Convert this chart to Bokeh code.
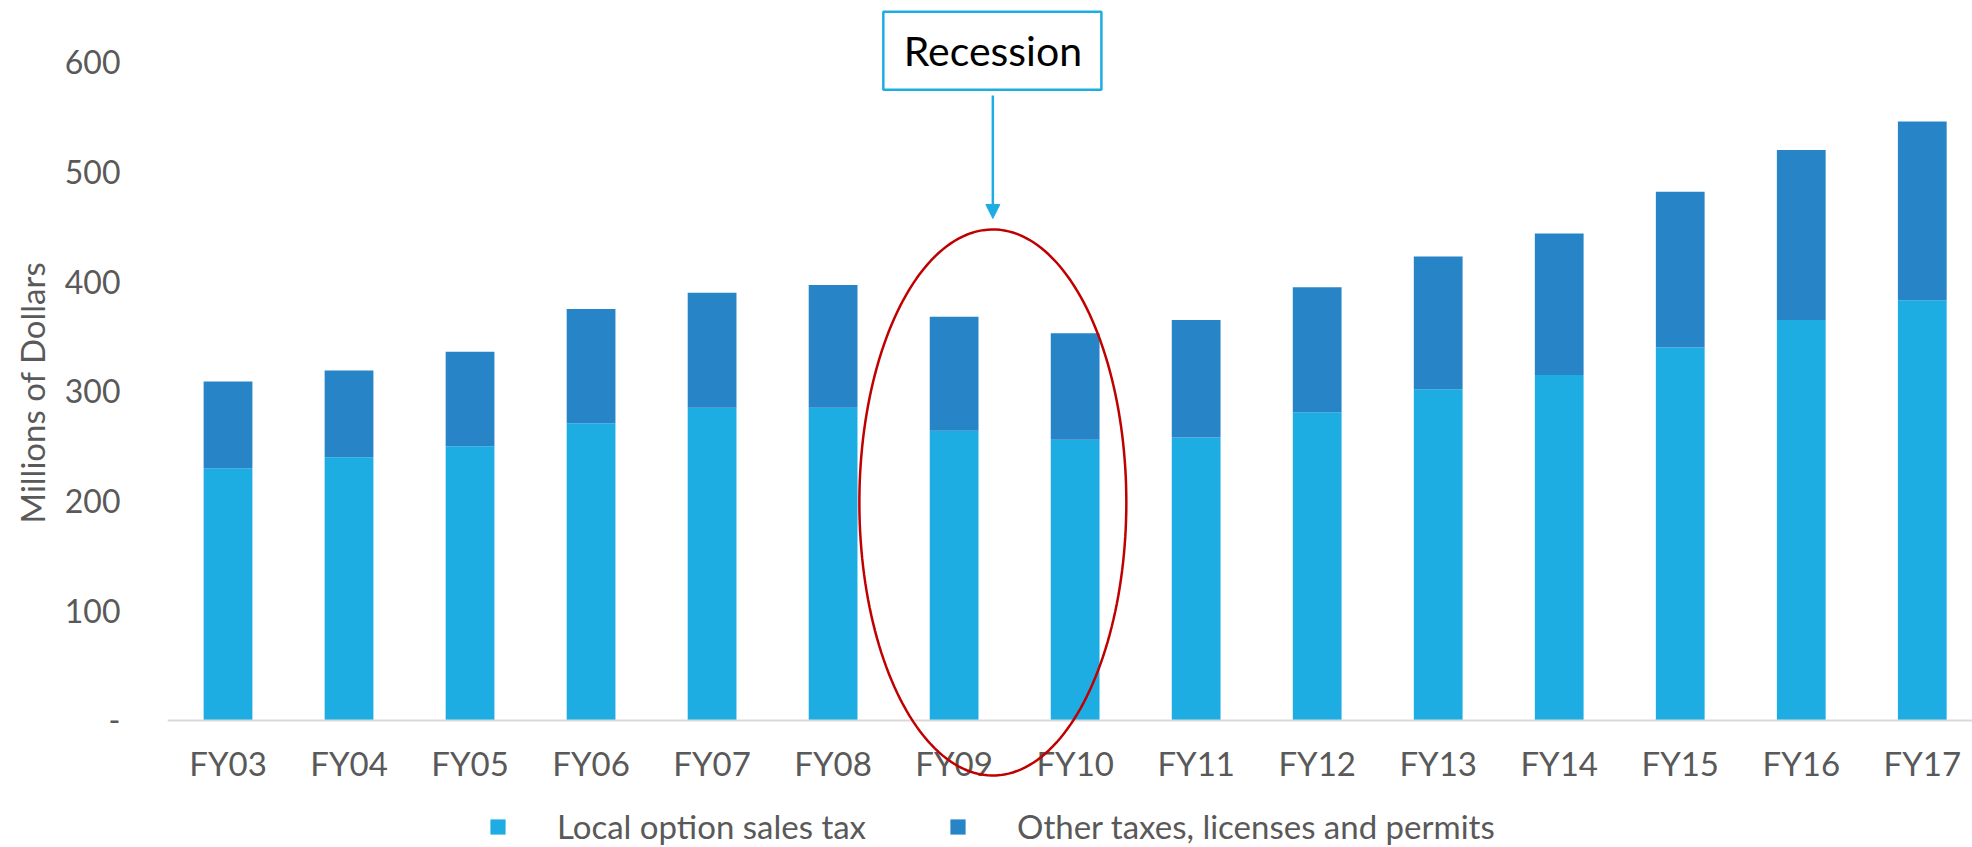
import numpy as np
from bokeh.plotting import figure
from bokeh.models import (Range1d, Legend, LegendItem, BoxAnnotation, Label, Title,
                          Arrow, NormalHead, PolyAnnotation, FixedTicker)
from bokeh.embed import file_html
from bokeh.resources import INLINE

# ---- data ----
years = ["FY03", "FY04", "FY05", "FY06", "FY07", "FY08", "FY09", "FY10",
         "FY11", "FY12", "FY13", "FY14", "FY15", "FY16", "FY17"]
local_sales_tax = [230, 240, 250, 271, 285, 285, 264, 256, 258, 281, 302, 315, 340, 365, 383]
other_taxes = [79, 79, 86, 104, 105, 112, 104, 97, 107, 114, 121, 129, 142, 155, 163]
series_names = ["Local option sales tax", "Other taxes, licenses and permits"]
y_ticks = [0, 100, 200, 300, 400, 500, 600]
y_title = "Millions of Dollars"

# ---- annotation geometry (category-slot x units, data y) ----
ann_x = 6.82
box_left, box_right, box_top, box_bottom = 5.915, 7.717, 646.0, 575.0
label_y = 610.8
arrow_y_start, arrow_y_end = 569.7, 457.6
ell_cx, ell_cy, ell_rx, ell_ry = 6.82, 198.7, 1.103, 248.9

C_LOCAL = "#1EADE3"
C_OTHER = "#2784C7"
GREY = "#595959"
FONT = "Lato"

# category slots: each year occupies one unit, centred at slot + 0.5
slots = [i + 0.5 for i in range(len(years))]

p = figure(width=1972, height=847, x_range=Range1d(0, 14.915),
           y_range=Range1d(-115.8, 656.3), output_backend="svg", toolbar_location=None,
           min_border_left=167, min_border_right=0, min_border_top=0, min_border_bottom=0)
p.outline_line_color = None
p.xgrid.grid_line_color = None
p.ygrid.grid_line_color = None

data = {"x": slots, "years": years, "local": local_sales_tax, "other": other_taxes}
rs = p.vbar_stack(["local", "other"], x="x", width=0.403, source=data,
                  color=[C_LOCAL, C_OTHER], line_color=None)

# axes
p.yaxis.ticker = FixedTicker(ticks=y_ticks)
p.yaxis.major_label_overrides = {0: "-"}
p.yaxis.axis_line_color = None
p.yaxis.major_tick_line_color = None
p.yaxis.minor_tick_line_color = None
p.yaxis.major_label_standoff = 41
p.yaxis.major_label_text_font = FONT
p.yaxis.major_label_text_font_size = "32px"
p.yaxis.major_label_text_color = GREY

p.add_layout(Title(text=y_title, align="left", vertical_align="top", offset=324, standoff=16,
                   text_font=FONT, text_font_size="33px", text_font_style="normal",
                   text_color=GREY), "left")

p.xaxis.fixed_location = 0
p.xaxis.ticker = FixedTicker(ticks=slots)
p.xaxis.major_label_overrides = {s: y for s, y in zip(slots, years)}
p.xaxis.axis_line_color = "#D9D9D9"
p.xaxis.axis_line_width = 2
p.xaxis.major_tick_line_color = None
p.xaxis.minor_tick_line_color = None
p.xaxis.major_label_standoff = 17
p.xaxis.major_label_text_font = FONT
p.xaxis.major_label_text_font_size = "33px"
p.xaxis.major_label_text_color = GREY

legend = Legend(items=[LegendItem(label=series_names[0], renderers=[rs[0]]),
                       LegendItem(label=series_names[1], renderers=[rs[1]])],
                orientation="horizontal", location=(321, 1),
                glyph_width=19, glyph_height=19, label_standoff=50, spacing=82,
                label_text_font=FONT, label_text_font_size="33px", label_text_color=GREY,
                border_line_color=None, background_fill_alpha=0, margin=0, padding=0)
p.add_layout(legend)

# annotations
p.add_layout(BoxAnnotation(left=box_left, right=box_right, top=box_top, bottom=box_bottom,
                           fill_alpha=0, line_color=C_LOCAL, line_alpha=1, line_width=2.5))
p.add_layout(Label(x=ann_x, y=label_y, text="Recession", text_align="center",
                   text_baseline="middle", text_font=FONT, text_font_size="41px",
                   text_color="black"))
p.add_layout(Arrow(x_start=ann_x, y_start=arrow_y_start, x_end=ann_x, y_end=arrow_y_end,
                   line_color=C_LOCAL, line_width=2.5,
                   end=NormalHead(size=14, fill_color=C_LOCAL, line_color=C_LOCAL)))
t = np.linspace(0, 2 * np.pi, 200)
p.add_layout(PolyAnnotation(xs=list(ell_cx + ell_rx * np.cos(t)),
                            ys=list(ell_cy + ell_ry * np.sin(t)),
                            fill_alpha=0, line_color="#C00000", line_alpha=1, line_width=2.5))

open("out.html", "w").write(file_html(p, INLINE))
